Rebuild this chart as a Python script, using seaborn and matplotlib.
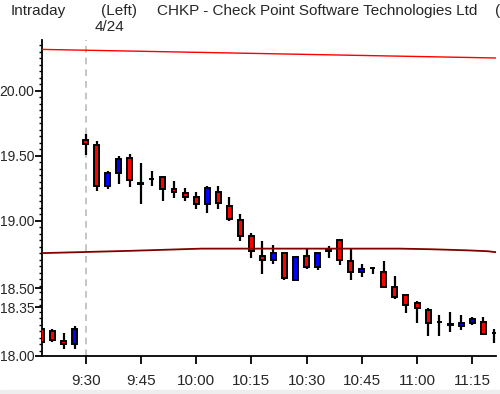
import matplotlib
matplotlib.use("Agg")
import matplotlib.pyplot as plt
from matplotlib.patches import Rectangle
from matplotlib.ticker import MultipleLocator, FixedLocator
import numpy as np
import pandas as pd
import seaborn as sns

# ---------------- data ----------------
bar_index = list(range(-4, 38))
opens  = [18.167, 18.150, 18.075, 18.055,
          19.620, 19.580, 19.270, 19.370, 19.480, 19.290, 19.320, 19.335, 19.240, 19.210,
          19.180, 19.125, 19.220, 19.110, 19.005, 18.880, 18.725, 18.700, 18.750, 18.545,
          18.725, 18.645, 18.775, 18.850, 18.690, 18.605, 18.635, 18.605, 18.490, 18.425,
          18.370, 18.310, 18.220, 18.205, 18.190, 18.215, 18.220, 18.135]
closes = [18.067, 18.080, 18.055, 18.165,
          19.590, 19.270, 19.370, 19.475, 19.310, 19.285, 19.320, 19.240, 19.220, 19.185,
          19.125, 19.250, 19.135, 19.010, 18.885, 18.765, 18.700, 18.750, 18.560, 18.720,
          18.645, 18.755, 18.765, 18.695, 18.605, 18.625, 18.635, 18.490, 18.410, 18.355,
          18.325, 18.215, 18.220, 18.198, 18.215, 18.240, 18.130, 18.135]
highs  = [18.167, 18.170, 18.135, 18.190,
          19.670, 19.615, 19.380, 19.500, 19.515, 19.445, 19.380, 19.345, 19.305, 19.250,
          19.220, 19.265, 19.265, 19.180, 19.055, 18.905, 18.845, 18.810, 18.755, 18.720,
          18.780, 18.760, 18.805, 18.850, 18.780, 18.670, 18.640, 18.690, 18.575, 18.425,
          18.380, 18.325, 18.275, 18.300, 18.275, 18.260, 18.260, 18.170]
lows   = [18.067, 18.070, 18.010, 18.015,
          19.505, 19.230, 19.245, 19.280, 19.260, 19.125, 19.270, 19.155, 19.175, 19.150,
          19.090, 19.060, 19.090, 19.000, 18.845, 18.715, 18.590, 18.670, 18.545, 18.540,
          18.630, 18.620, 18.715, 18.660, 18.540, 18.570, 18.590, 18.485, 18.400, 18.290,
          18.210, 18.115, 18.115, 18.145, 18.160, 18.200, 18.120, 18.060]

# upper (bright red) line and middle (dark red) line: (bar index, price)
upper_line_x = [-4.15, 37.2]
upper_line_y = [20.318, 20.2515]
mid_line_x = [-4.15, 4.0, 10.5, 28.4, 31.4, 34.5, 36.4, 37.2]
mid_line_y = [18.750, 18.768, 18.785, 18.785, 18.780, 18.772, 18.765, 18.757]

day_break = 0
xtick_pos = [0, 5, 10, 15, 20, 25, 30, 35]
xtick_labels = ["9:30", "9:45", "10:00", "10:15", "10:30", "10:45", "11:00", "11:15"]
ytick_pos = [20.00, 19.50, 19.00, 18.48, 18.335, 17.962]
ytick_labels = ["20.00", "19.50", "19.00", "18.50", "18.35", "18.00"]

# ---------------- style ----------------
sns.set_style("white")
plt.rcParams["font.family"] = ["Liberation Sans", "DejaVu Sans"]

df = pd.DataFrame({"i": bar_index, "open": opens, "close": closes,
                   "high": highs, "low": lows})
df["bottom"] = df[["open", "close"]].min(axis=1)
df["height"] = (df["close"] - df["open"]).abs()
df["color"] = np.where(df["close"] > df["open"], "#0000FF",
                       np.where(df["close"] < df["open"], "#FF0000", "black"))

fig = plt.figure(figsize=(5.0, 3.94), dpi=100)
fig.patches.append(Rectangle((0, 0), 1, 4 / 394, transform=fig.transFigure,
                             color="#EEEEEE", zorder=0))
ax = fig.add_axes([42 / 500, 38 / 394, 454 / 500, 316 / 394])

# wicks
ax.vlines(df["i"], df["low"], df["high"], color="black", linewidth=1.6, zorder=2)
# bodies
ax.bar(df["i"], df["height"], bottom=df["bottom"], width=0.45,
       color=df["color"], edgecolor="black", linewidth=1.4, zorder=3)

# trend lines
sns.lineplot(x=upper_line_x, y=upper_line_y, ax=ax, color="#FF0000",
             linewidth=1.0, estimator=None, sort=False, zorder=4)
sns.lineplot(x=mid_line_x, y=mid_line_y, ax=ax, color="#800000",
             linewidth=1.3, estimator=None, sort=False, zorder=4)

ax.axvline(day_break, color="#BBBBBB", linewidth=1.2, dashes=(4, 3), zorder=1)

ax.set_xlim(-3.95, 37.15)
ax.set_ylim(17.959, 20.39)

ax.xaxis.set_major_locator(FixedLocator(xtick_pos))
ax.set_xticklabels(xtick_labels)
ax.yaxis.set_major_locator(FixedLocator(ytick_pos))
ax.set_yticklabels(ytick_labels)
ax.yaxis.set_minor_locator(MultipleLocator(0.05))

for s in ["top", "right"]:
    ax.spines[s].set_visible(False)
for s in ["left", "bottom"]:
    ax.spines[s].set_color("black")
    ax.spines[s].set_linewidth(1.3)

ax.tick_params(axis="x", which="major", direction="out", length=6, width=1.3,
               color="black", labelsize=11, pad=7, bottom=True)
ax.tick_params(axis="y", which="major", direction="out", length=5, width=1.3,
               color="black", labelsize=10, pad=0.5, left=True)
ax.tick_params(axis="y", which="minor", direction="out", length=2.5, width=1.0,
               color="black", left=True)
ax.set_xlabel("")
ax.set_ylabel("")

# header texts
hdr = 11
fig.text(11 / 500, 1 - 11 / 394, "Intraday", fontsize=hdr, va="center", ha="left")
fig.text(101 / 500, 1 - 11 / 394, "(Left)", fontsize=hdr, va="center", ha="left")
fig.text(157 / 500, 1 - 11 / 394, "CHKP - Check Point Software Technologies Ltd",
         fontsize=hdr, va="center", ha="left")
fig.text(495 / 500, 1 - 11 / 394, "(", fontsize=hdr, va="center", ha="left")
fig.text(95 / 500, 1 - 27 / 394, "4/24", fontsize=hdr, va="center", ha="left")

fig.savefig("out.png", dpi=100)
